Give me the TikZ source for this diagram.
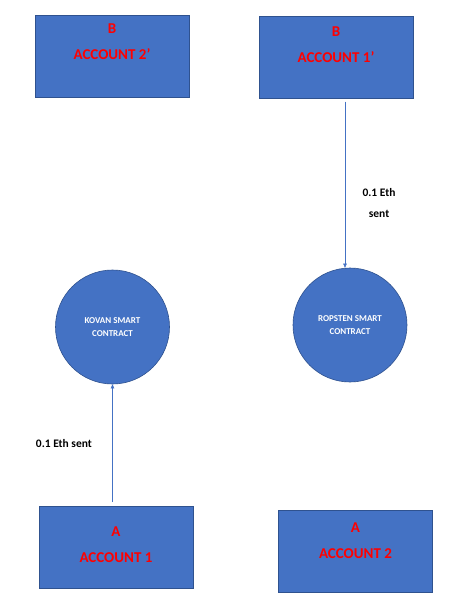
\documentclass[tikz,border=0pt]{standalone}
\usepackage{fontspec}
\setmainfont{Carlito}
\usetikzlibrary{arrows.meta, positioning}
\definecolor{oblue}{HTML}{4472C4}
\definecolor{oedge}{HTML}{2F528F}
\definecolor{ored}{HTML}{FF0000}
\tikzset{
  every picture/.style={x=1pt, y=-1pt},
  acct/.style={draw=oedge, fill=oblue, line width=1pt, minimum width=154pt, minimum height=82pt, inner sep=0pt},
  acctlbl/.style={text=ored, font=\bfseries\fontsize{15}{26}\selectfont, align=center},
  contract/.style={circle, draw=oedge, fill=oblue, line width=0.6pt, minimum size=114pt, inner sep=0pt,
    text=white, font=\bfseries\fontsize{9}{12.5}\selectfont, align=center},
  arrow/.style={-{Triangle[length=4pt, width=3.5pt]}, draw=oblue, line width=0.5pt},
  note/.style={font=\bfseries\fontsize{11.5}{21}\selectfont, align=center},
}

\begin{document}
\begin{tikzpicture}
  \fill[white] (0,0) rectangle (456,611);
  % receiving accounts
  \node[acct, label={[acctlbl, yshift=14pt]center:B\\ACCOUNT 2’}] (acctBtwo) at (112,56) {};
  \node[acct, label={[acctlbl, yshift=12pt]center:B\\ACCOUNT 1’}] (acctBone) at (336,57) {};
  % contracts
  \node[contract] (kovan) at (112.5,327) {KOVAN SMART\\CONTRACT};
  \node[contract] (ropsten) at (350,325) {ROPSTEN SMART\\CONTRACT};
  % sending accounts
  \node[acct, label={[acctlbl, yshift=3pt]center:A\\ACCOUNT 1}] (acctAone) at (116,547.5) {};
  \node[acct, label={[acctlbl, yshift=11pt]center:A\\ACCOUNT 2}] (acctAtwo) at (355.5,551.5) {};
  % transfers
  \draw[arrow] ([yshift=4pt]acctAone.north -| kovan.south) -- (kovan.south)
    node[note, midway, left=17pt] (sentA) {0.1 Eth sent};
  \coordinate (ropin) at ([xshift=-5pt]ropsten.north);
  \draw[arrow] ([yshift=-3pt]acctBone.south -| ropin) -- (ropin)
    node[note, pos=0.5, right=14pt, anchor=north west] (sentB) {0.1 Eth\\sent};
\end{tikzpicture}
\end{document}
